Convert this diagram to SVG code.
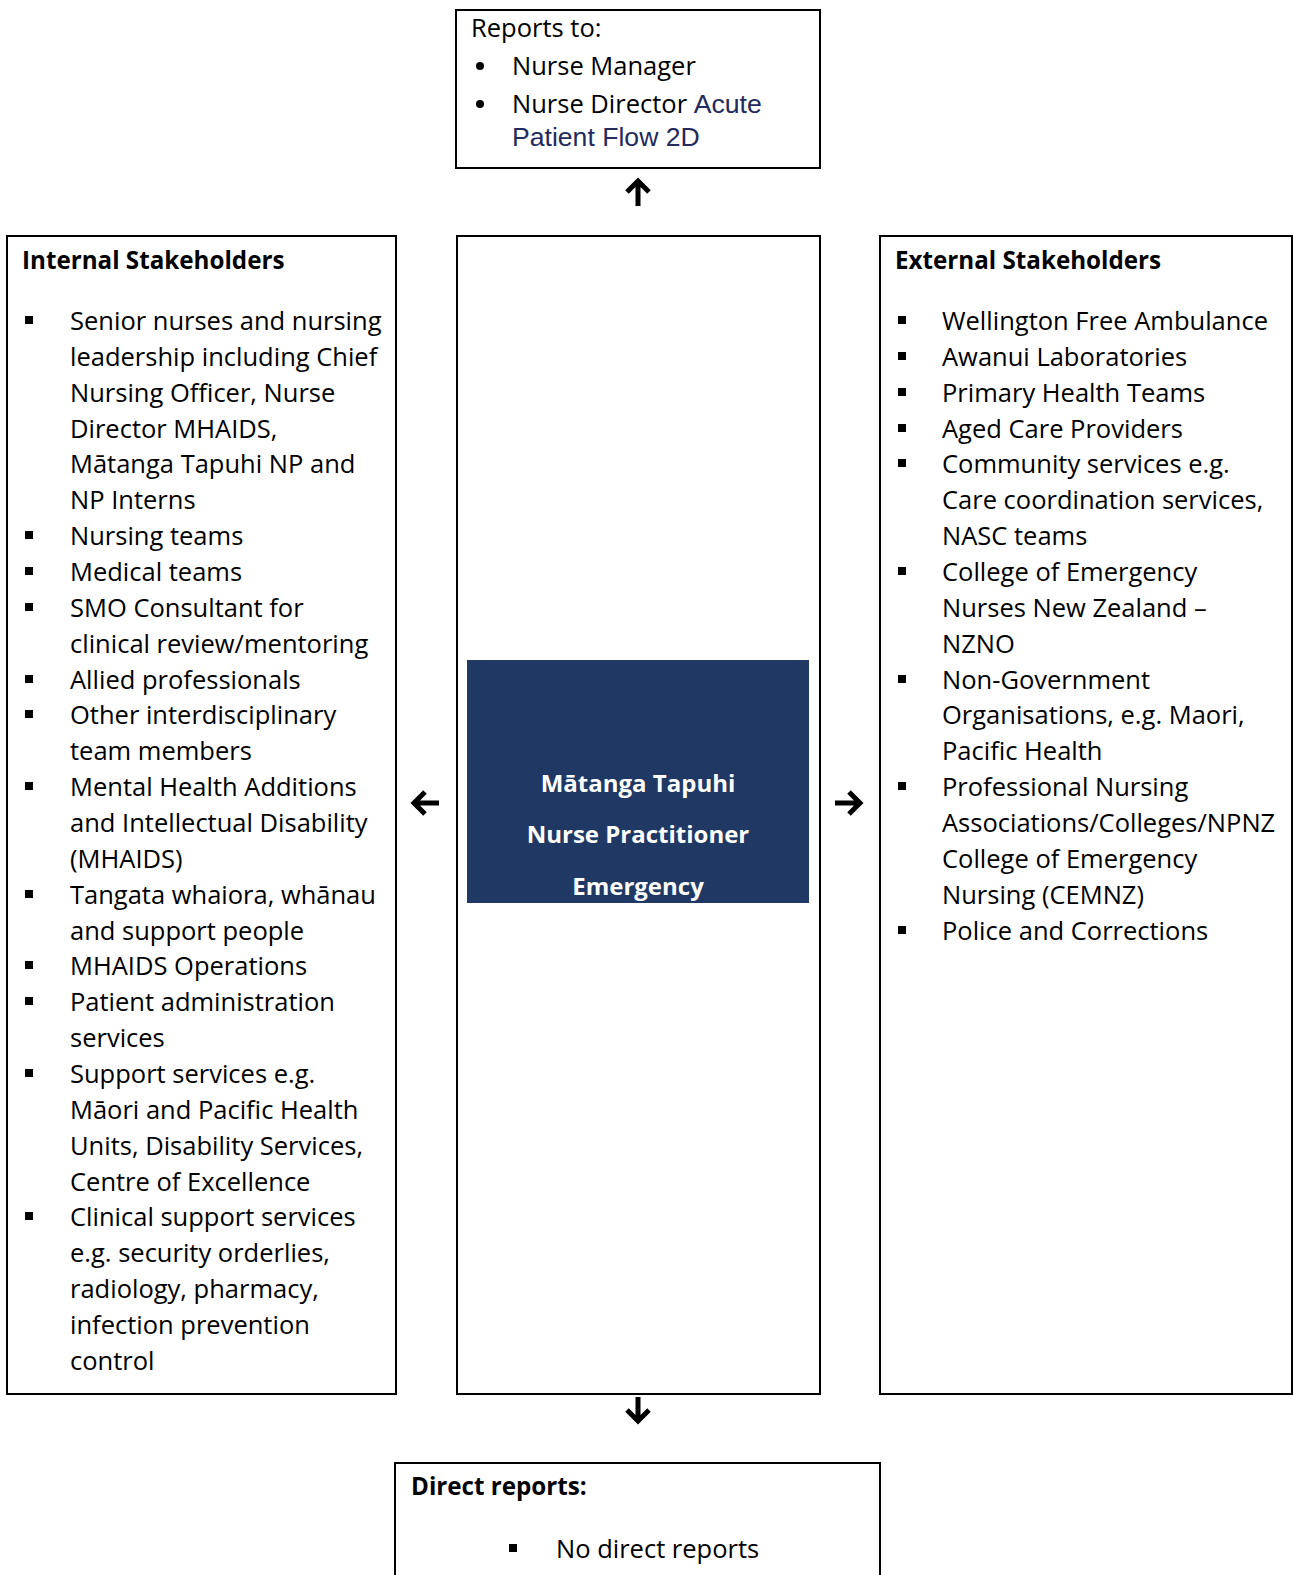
<svg xmlns="http://www.w3.org/2000/svg" width="1293" height="1575" viewBox="0 0 1293 1575">
<style>
.box{fill:#fff;stroke:#000;stroke-width:2}
.t{font-family:"Open Sans",Lato,sans-serif;font-size:25.5px;fill:#000}
.b{font-family:"Open Sans",Lato,sans-serif;font-size:24.2px;font-weight:bold;fill:#000}
.w{font-family:"Open Sans",Lato,sans-serif;font-size:24px;font-weight:bold;fill:#fff}
.a{font-family:"Liberation Sans",Arial,sans-serif;font-size:26.6px;fill:#232a5c}
.sq{fill:#000}
.arr{fill:none;stroke:#000;stroke-width:5;stroke-linejoin:miter;stroke-linecap:butt}
</style>
<rect width="1293" height="1575" fill="#fff"/>
<g id="reports-to">
<rect class="box" x="456" y="10" width="364" height="158"/>
<text class="t" x="471" y="37">Reports to:</text>
<circle cx="480" cy="66" r="4"/>
<text class="t" x="512" y="75">Nurse Manager</text>
<circle cx="480" cy="104" r="4"/>
<text class="t" x="512" y="113">Nurse Director <tspan class="a">Acute</tspan></text>
<text class="a" x="512" y="146">Patient Flow 2D</text>
</g>
<g id="internal">
<rect class="box" x="7" y="236" width="389" height="1158"/>
<text class="b" x="22" y="269">Internal Stakeholders</text>
<g class="sq">
<rect x="25" y="316" width="8" height="8"/>
<rect x="25" y="531" width="8" height="8"/>
<rect x="25" y="567" width="8" height="8"/>
<rect x="25" y="603" width="8" height="8"/>
<rect x="25" y="675" width="8" height="8"/>
<rect x="25" y="710" width="8" height="8"/>
<rect x="25" y="782" width="8" height="8"/>
<rect x="25" y="890" width="8" height="8"/>
<rect x="25" y="961" width="8" height="8"/>
<rect x="25" y="997" width="8" height="8"/>
<rect x="25" y="1069" width="8" height="8"/>
<rect x="25" y="1212" width="8" height="8"/>
</g>
<text class="t" x="70" y="330">Senior nurses and nursing</text>
<text class="t" x="70" y="366">leadership including Chief</text>
<text class="t" x="70" y="402">Nursing Officer, Nurse</text>
<text class="t" x="70" y="438">Director MHAIDS,</text>
<text class="t" x="70" y="473">Mātanga Tapuhi NP and</text>
<text class="t" x="70" y="509">NP Interns</text>
<text class="t" x="70" y="545">Nursing teams</text>
<text class="t" x="70" y="581">Medical teams</text>
<text class="t" x="70" y="617">SMO Consultant for</text>
<text class="t" x="70" y="653">clinical review/mentoring</text>
<text class="t" x="70" y="689">Allied professionals</text>
<text class="t" x="70" y="724">Other interdisciplinary</text>
<text class="t" x="70" y="760">team members</text>
<text class="t" x="70" y="796">Mental Health Additions</text>
<text class="t" x="70" y="832">and Intellectual Disability</text>
<text class="t" x="70" y="868">(MHAIDS)</text>
<text class="t" x="70" y="904">Tangata whaiora, whānau</text>
<text class="t" x="70" y="940">and support people</text>
<text class="t" x="70" y="975">MHAIDS Operations</text>
<text class="t" x="70" y="1011">Patient administration</text>
<text class="t" x="70" y="1047">services</text>
<text class="t" x="70" y="1083">Support services e.g.</text>
<text class="t" x="70" y="1119">Māori and Pacific Health</text>
<text class="t" x="70" y="1155">Units, Disability Services,</text>
<text class="t" x="70" y="1191">Centre of Excellence</text>
<text class="t" x="70" y="1226">Clinical support services</text>
<text class="t" x="70" y="1262">e.g. security orderlies,</text>
<text class="t" x="70" y="1298">radiology, pharmacy,</text>
<text class="t" x="70" y="1334">infection prevention</text>
<text class="t" x="70" y="1370">control</text>
</g>
<g id="role">
<rect class="box" x="457" y="236" width="363" height="1158"/>
<rect x="467" y="660" width="342" height="243" fill="#203864"/>
<text class="w" x="638" y="792" text-anchor="middle">Mātanga Tapuhi</text>
<text class="w" x="638" y="843" text-anchor="middle">Nurse Practitioner</text>
<text class="w" x="638" y="895" text-anchor="middle">Emergency</text>
</g>
<g id="external">
<rect class="box" x="880" y="236" width="412" height="1158"/>
<text class="b" x="895" y="269">External Stakeholders</text>
<g class="sq">
<rect x="898" y="316" width="8" height="8"/>
<rect x="898" y="352" width="8" height="8"/>
<rect x="898" y="388" width="8" height="8"/>
<rect x="898" y="424" width="8" height="8"/>
<rect x="898" y="459" width="8" height="8"/>
<rect x="898" y="567" width="8" height="8"/>
<rect x="898" y="675" width="8" height="8"/>
<rect x="898" y="782" width="8" height="8"/>
<rect x="898" y="926" width="8" height="8"/>
</g>
<text class="t" x="942" y="330">Wellington Free Ambulance</text>
<text class="t" x="942" y="366">Awanui Laboratories</text>
<text class="t" x="942" y="402">Primary Health Teams</text>
<text class="t" x="942" y="438">Aged Care Providers</text>
<text class="t" x="942" y="473">Community services e.g.</text>
<text class="t" x="942" y="509">Care coordination services,</text>
<text class="t" x="942" y="545">NASC teams</text>
<text class="t" x="942" y="581">College of Emergency</text>
<text class="t" x="942" y="617">Nurses New Zealand –</text>
<text class="t" x="942" y="653">NZNO</text>
<text class="t" x="942" y="689">Non-Government</text>
<text class="t" x="942" y="724">Organisations, e.g. Maori,</text>
<text class="t" x="942" y="760">Pacific Health</text>
<text class="t" x="942" y="796">Professional Nursing</text>
<text class="t" x="942" y="832">Associations/Colleges/NPNZ</text>
<text class="t" x="942" y="868">College of Emergency</text>
<text class="t" x="942" y="904">Nursing (CEMNZ)</text>
<text class="t" x="942" y="940">Police and Corrections</text>
</g>
<g id="direct-reports">
<rect class="box" x="395" y="1463" width="485" height="130"/>
<text class="b" x="411" y="1495">Direct reports:</text>
<rect class="sq" x="509" y="1544" width="8" height="8"/>
<text class="t" x="556" y="1558">No direct reports</text>
</g>
<g id="connectors">
<path class="arr" d="M627,192 L638,181 L649,192 M638,183 L638,206"/>
<path class="arr" d="M627,1410 L638,1421 L649,1410 M638,1419 L638,1397"/>
<path class="arr" d="M425,792 L414,803 L425,814 M416,803 L439,803"/>
<path class="arr" d="M849,792 L860,803 L849,814 M858,803 L835,803"/>
</g>
</svg>
